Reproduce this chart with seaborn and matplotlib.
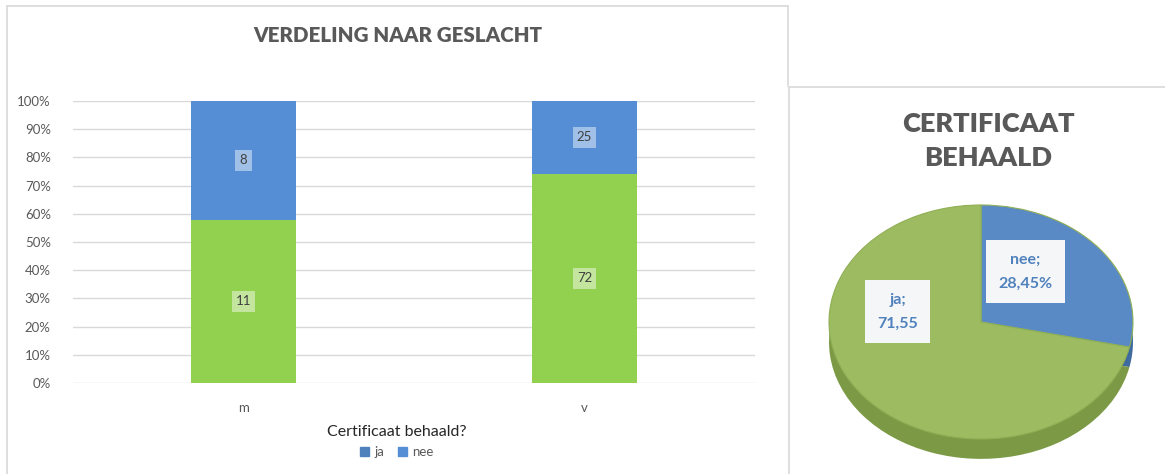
import matplotlib
matplotlib.use("Agg")
import matplotlib.pyplot as plt
import seaborn as sns
import pandas as pd
from matplotlib.patches import Patch
from matplotlib.lines import Line2D

# Gegevens
geslacht = ["m", "v"]
ja_aantal = [11, 72]
nee_aantal = [8, 25]
pie_labels = ["nee", "ja"]
pie_waarden = [28.45, 71.55]
pie_teksten = ["nee;\n28,45%", "ja;\n71,55"]

GROEN = "#92D050"
BLAUW = "#558ED5"
GRIJS_TEKST = "#595959"
RAND = "#D9D9D9"

sns.set_style("white")
plt.rcParams["font.family"] = ["Lato", "DejaVu Sans"]

df = pd.DataFrame({"geslacht": geslacht, "ja": ja_aantal, "nee": nee_aantal})
df["totaal"] = df["ja"] + df["nee"]
df["pct_ja"] = df["ja"] / df["totaal"] * 100
df["pct_tot"] = 100.0

fig = plt.figure(figsize=(11.65, 4.74), dpi=100)
W, H = 1165, 474


def fx(px):
    return px / W


def fy(py):
    return 1 - py / H


# ---- staafdiagram ----
ax = fig.add_axes([fx(73), fy(383), fx(755) - fx(73), fy(101) - fy(383)])
sns.barplot(data=df, x="geslacht", y="pct_tot", color=BLAUW, width=0.31,
            saturation=1, ax=ax, zorder=3, linewidth=0)
sns.barplot(data=df, x="geslacht", y="pct_ja", color=GROEN, width=0.31,
            saturation=1, ax=ax, zorder=3, linewidth=0)
ax.set_xlim(-0.5, 1.5)
ax.set_ylim(0, 100)
ax.set_yticks(range(0, 101, 10))
ax.set_yticklabels([f"{v}%" for v in range(0, 101, 10)], color=GRIJS_TEKST, fontsize=9.5)
ax.tick_params(axis="x", colors=GRIJS_TEKST, labelsize=9.5, length=0, pad=14)
ax.tick_params(axis="y", length=0, pad=16)
ax.yaxis.grid(True, color=RAND, linewidth=1, zorder=0)
ax.set_xlabel("")
ax.set_ylabel("")
sns.despine(ax=ax, left=True, bottom=True)

for i, rij in df.iterrows():
    ax.text(i, rij["pct_ja"] / 2, str(rij["ja"]), ha="center", va="center",
            fontsize=9.5, color="#404040", zorder=5,
            bbox=dict(facecolor="white", alpha=0.45, edgecolor="none", pad=3))
    ax.text(i, (rij["pct_ja"] + 100) / 2, str(rij["nee"]), ha="center", va="center",
            fontsize=9.5, color="#404040", zorder=5,
            bbox=dict(facecolor="white", alpha=0.45, edgecolor="none", pad=3))

fig.text(fx(398), fy(35), "VERDELING NAAR GESLACHT", ha="center", va="center",
         fontsize=14.8, fontweight="heavy", color=GRIJS_TEKST)
fig.text(fx(397), fy(432), "Certificaat behaald?", ha="center", va="center",
         fontsize=11.5, color="#262626")
fig.legend(handles=[Patch(color="#4F81BD", label="ja"), Patch(color=BLAUW, label="nee")],
           loc="center", bbox_to_anchor=(fx(397), fy(452)), ncol=2, frameon=False,
           fontsize=9.5, handlelength=0.7, handleheight=0.7, handletextpad=0.4,
           columnspacing=1.0, labelcolor=GRIJS_TEKST)

# ---- taartdiagram (pseudo-3D) ----
pax = fig.add_axes([fx(800), fy(470), fx(1160) - fx(800), fy(190) - fy(470)])
pax.pie(pie_waarden, colors=["#3E6A9F", "#7C9A45"], startangle=90, counterclock=False,
        center=(0, -0.17), radius=1, wedgeprops=dict(linewidth=0))
pax.pie(pie_waarden, colors=["#5A8AC6", "#9DBB61"], startangle=90, counterclock=False,
        center=(0, 0), radius=1, wedgeprops=dict(linewidth=0.8, edgecolor="#8FAF55"))
pax.set_aspect("auto")
pax.set_xlim(-181 / 152, 179 / 152)
pax.set_ylim(-148 / 117, -148 / 117 + 280 / 117)
pax.axis("off")

label_pos = [(0.29, 0.43), (-0.55, 0.09)]
for tekst, (x, y) in zip(pie_teksten, label_pos):
    pax.text(x, y, tekst, ha="center", va="center", fontsize=11.5, fontweight="bold",
             color="#4F81BD", linespacing=1.9,
             bbox=dict(facecolor="#F4F6F8", edgecolor="none", pad=9))

fig.text(fx(988), fy(141), "CERTIFICAAT\nBEHAALD", ha="center", va="center",
         fontsize=19.5, fontweight="heavy", color=GRIJS_TEKST, linespacing=1.45)

# ---- kaderranden ----
for xs, ys in [([7, 788], [6, 6]), ([7, 7], [6, 474]), ([788, 788], [6, 86]),
               ([789, 1165], [87, 87]), ([789, 789], [87, 474])]:
    fig.add_artist(Line2D([fx(x) for x in xs], [fy(y) for y in ys], color=RAND, linewidth=1.2))

fig.savefig("out.png", dpi=100)
